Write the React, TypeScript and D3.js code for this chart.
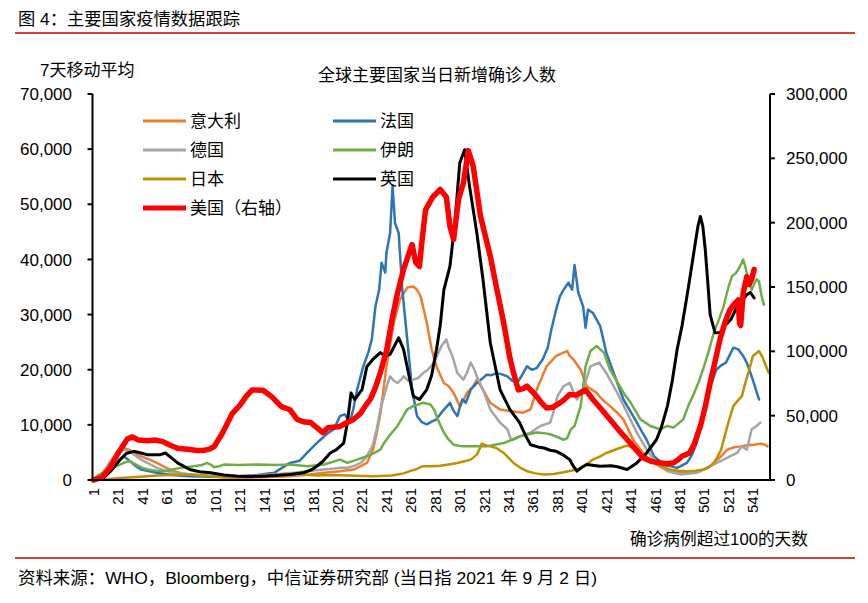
import React from "react";
import * as d3 from "d3";

type P = [number, number];

// day since 100 confirmed cases, 7-day average of new cases
const italy: P[] = [[1,0],[8,1000],[14,3000],[20,4800],[26,5800],[30,5500],[35,4800],[40,4300],[47,3700],[53,3100],[60,2300],[67,1600],[74,1200],[80,1000],[94,700],[110,450],[121,400],[140,500],[162,700],[178,1000],[190,1300],[203,1600],[214,1900],[220,2500],[225,3100],[230,5500],[233,8500],[236,12000],[241,20600],[247,28500],[252,32700],[258,34900],[263,35100],[266,34500],[269,33300],[274,28500],[278,23700],[282,20600],[288,17600],[292,17000],[296,15800],[301,13400],[304,14500],[307,15800],[312,17000],[315,18200],[320,16400],[326,14000],[334,12800],[342,12500],[353,12200],[359,12800],[364,16400],[368,18500],[372,20600],[380,22500],[386,23100],[389,23400],[391,22500],[394,21900],[400,20000],[405,17000],[413,15800],[418,14500],[424,13400],[430,12200],[435,11000],[443,7300],[451,4900],[459,3100],[470,1900],[484,1300],[498,1600],[505,2300],[509,3100],[515,4300],[520,5500],[525,5900],[531,6100],[536,6300],[542,6400],[547,6600],[551,6400],[553,6100]];

const france: P[] = [[1,0],[10,500],[18,2500],[24,4000],[26,4300],[31,3400],[36,2500],[40,1900],[53,1300],[65,900],[80,700],[100,600],[121,700],[135,900],[149,1300],[162,3100],[170,3500],[176,4900],[183,6500],[187,7300],[193,8500],[198,9200],[203,11600],[207,11900],[211,10400],[214,13000],[217,16400],[222,20600],[226,23000],[229,25500],[232,31500],[235,34500],[237,39400],[240,37600],[241,41200],[244,44800],[246,53300],[248,46600],[251,44800],[254,34500],[258,25500],[262,16400],[266,11600],[270,10500],[274,10100],[278,10600],[282,11000],[287,12500],[293,14000],[296,12500],[299,11600],[303,14600],[306,14000],[310,16400],[315,17600],[319,18300],[323,19100],[327,19000],[331,19400],[335,19200],[340,18800],[344,18000],[348,17600],[352,19000],[356,20600],[360,20000],[364,20300],[369,21900],[373,24000],[376,27300],[380,31000],[383,33300],[386,34500],[390,35800],[393,34500],[395,39000],[398,34000],[402,31500],[404,27600],[406,30900],[410,30300],[416,27900],[421,23100],[427,19400],[435,14600],[443,11600],[449,9200],[454,7300],[460,4300],[468,2800],[479,2200],[487,3100],[491,4500],[495,6700],[499,10500],[503,14600],[507,17500],[511,20000],[515,20800],[519,21300],[525,24000],[529,23700],[533,22500],[536,21300],[540,18800],[546,14600]];

const germany: P[] = [[1,0],[8,800],[14,3000],[20,4800],[26,5500],[31,5200],[35,4500],[40,3700],[47,2900],[53,2200],[60,1700],[67,1300],[80,1000],[108,700],[130,800],[149,1000],[165,1300],[176,1600],[190,1900],[203,2200],[209,2200],[215,2600],[220,3100],[224,4000],[228,5500],[230,6500],[233,9200],[236,12800],[239,15200],[242,17500],[244,18800],[247,18000],[250,17600],[253,18200],[255,18800],[259,18000],[263,18200],[267,18500],[271,19400],[275,20000],[280,21300],[283,22800],[286,24300],[290,25500],[292,24000],[295,22500],[299,19400],[304,18200],[307,19500],[310,21300],[313,20000],[315,18800],[320,16400],[326,12800],[334,10400],[340,9200],[343,7300],[347,7500],[350,7900],[355,8300],[359,8600],[367,9800],[375,10400],[378,12500],[381,15200],[386,17000],[391,17600],[394,16000],[397,14600],[402,16400],[408,20600],[415,21300],[421,19400],[430,15800],[438,12200],[446,8600],[454,5500],[462,3100],[471,1600],[482,1000],[495,1300],[506,2500],[517,3700],[528,4900],[532,6100],[536,5500],[540,9200],[544,9800],[547,10400]];

const iran: P[] = [[1,0],[5,900],[10,1500],[16,2100],[21,2600],[27,3200],[31,3400],[36,2800],[41,2200],[46,1900],[52,1700],[59,1600],[66,1900],[72,2200],[83,2500],[90,2700],[94,3100],[97,2800],[100,2300],[104,2500],[108,2800],[120,2700],[135,2800],[150,2700],[162,2800],[176,2500],[190,2800],[203,3700],[209,3100],[217,3700],[225,4300],[230,4800],[236,5500],[239,6700],[244,8200],[250,9800],[254,11300],[258,12800],[263,13400],[267,13700],[271,14000],[277,13700],[280,12800],[282,11600],[285,10000],[288,8600],[292,7300],[296,6400],[303,6100],[310,6100],[323,6100],[337,6700],[344,7300],[350,7900],[357,8300],[364,8600],[370,8500],[375,8300],[381,7800],[386,7300],[389,7600],[392,9200],[395,9800],[398,12000],[400,13400],[402,17000],[404,20600],[408,23400],[413,24300],[419,23100],[424,20000],[428,18500],[432,17000],[436,15500],[441,14000],[445,12500],[449,11000],[457,9800],[465,9200],[471,9800],[476,9500],[484,11000],[488,13400],[493,15800],[497,18000],[501,20600],[505,23500],[509,26700],[513,29000],[517,31500],[521,35000],[524,37000],[527,37500],[529,38200],[531,39000],[533,40000],[535,38500],[537,36500],[540,34500],[542,35500],[544,36400],[546,36000],[548,33500],[550,31800]];

const japan: P[] = [[1,0],[10,100],[20,300],[26,400],[40,600],[53,800],[65,900],[80,1000],[95,700],[110,500],[125,500],[140,700],[150,1000],[160,1100],[170,1000],[185,800],[195,900],[210,800],[230,700],[245,800],[250,1000],[255,1200],[260,1600],[266,2000],[271,2500],[278,2500],[285,2600],[292,2800],[299,3100],[305,3400],[310,3700],[315,4600],[317,5500],[319,6600],[322,6300],[326,6100],[331,5800],[337,4900],[341,4000],[345,3100],[350,2300],[356,1600],[363,1200],[370,1000],[378,1100],[386,1400],[397,1900],[404,2700],[410,3700],[416,4300],[421,4900],[427,5400],[432,5800],[437,6200],[440,6100],[444,5600],[449,4900],[454,4000],[460,3100],[466,2400],[473,1900],[480,1700],[487,1600],[494,1700],[501,1900],[506,2500],[509,3100],[512,4200],[515,5500],[518,8000],[521,10500],[525,13400],[529,14500],[532,15200],[535,17800],[538,20000],[541,22500],[546,23400],[549,22200],[552,20500],[554,19400]];

const uk: P[] = [[1,0],[10,500],[16,1800],[23,3700],[28,4800],[34,5200],[40,4900],[45,4600],[50,4600],[56,4600],[60,4900],[65,4000],[70,3100],[80,1900],[88,1500],[97,1300],[108,900],[119,700],[130,650],[140,700],[150,800],[162,1000],[173,1300],[180,1900],[184,2500],[189,3400],[195,4900],[200,5500],[206,6700],[209,10400],[212,15800],[215,14600],[218,15500],[221,16400],[225,20600],[230,21900],[236,23100],[240,22500],[244,22800],[248,24500],[251,25800],[255,23700],[259,19400],[263,15200],[268,14600],[274,16400],[278,19000],[282,23700],[285,28000],[288,34500],[293,38800],[297,46600],[301,57500],[305,59900],[309,53300],[315,44800],[320,36400],[326,24900],[334,16400],[342,12800],[350,10400],[355,8000],[359,6400],[365,6000],[370,5800],[375,5400],[380,5200],[386,4500],[391,3700],[394,2500],[397,1600],[401,2300],[405,2800],[416,2500],[425,2600],[430,2400],[438,1900],[446,3100],[454,4900],[462,7300],[466,9500],[471,13400],[475,18000],[479,23700],[483,28000],[487,33300],[490,37500],[493,41800],[496,46000],[498,47800],[500,46000],[502,41800],[504,36000],[506,30000],[510,26700],[514,26700],[518,28000],[523,29100],[528,31500],[532,32500],[536,33600],[539,34000],[542,33000]];

// right axis
const us: P[] = [[1,0],[8,2000],[15,10000],[22,22000],[29,32000],[33,33500],[38,31000],[45,30500],[52,31000],[58,29800],[64,27000],[70,24700],[80,23700],[86,23000],[91,22900],[96,24000],[100,26000],[107,36900],[115,52000],[121,58000],[126,64800],[131,70000],[140,69800],[147,64800],[155,57000],[162,54600],[168,47000],[174,45000],[179,44600],[185,40000],[189,36800],[193,40600],[203,41600],[208,44300],[214,47000],[220,52000],[224,58000],[228,63000],[232,72000],[236,83500],[241,100000],[246,127000],[250,145000],[255,163600],[259,175000],[262,183000],[265,169000],[268,166000],[270,185000],[273,210000],[279,220000],[285,225800],[290,220000],[293,197000],[296,187000],[300,218000],[304,231000],[308,256000],[312,244000],[318,205000],[326,174000],[331,150000],[337,122000],[342,95000],[345,83300],[349,70000],[353,71000],[356,73000],[360,69000],[364,65000],[368,60000],[372,56000],[377,56500],[381,58700],[386,62000],[391,66400],[396,66000],[400,68000],[404,70000],[410,62600],[417,55000],[424,47000],[431,39000],[438,31500],[445,24000],[451,17300],[458,14500],[465,13400],[470,12500],[476,13400],[480,16000],[483,18500],[489,21000],[493,28000],[498,41800],[502,57000],[506,75500],[510,92000],[514,109000],[518,122000],[522,132000],[526,137000],[529,140000],[530,122000],[531,120000],[533,145000],[536,158000],[538,152000],[540,156000],[542,163600]];

const leftTicks = [0, 10000, 20000, 30000, 40000, 50000, 60000, 70000];
const rightTicks = [0, 50000, 100000, 150000, 200000, 250000, 300000];
const dayTicks = [1,21,41,61,81,101,121,141,161,181,201,221,241,261,281,301,321,341,361,381,401,421,441,461,481,501,521,541];

const seriesNames = ["意大利", "法国", "德国", "伊朗", "日本", "英国", "美国（右轴）"];
const seriesColors = ["#ED7D31", "#2E75B6", "#A5A5A5", "#70AD47", "#BF9000", "#000000", "#FF0000"];
const seriesWidths = [2.5, 2.5, 2.5, 2.5, 2.5, 3, 5.5];
const seriesData = [italy, france, germany, iran, japan, uk, us];

const FONT = "'Liberation Sans', Arial, 'Noto Sans CJK SC', sans-serif";

export default function App() {
  const x = d3.scaleLinear().domain([1, 555]).range([93.3, 770]);
  const yL = d3.scaleLinear().domain([0, 70000]).range([480, 94]);
  const yR = d3.scaleLinear().domain([0, 300000]).range([480, 94]);
  const fmt = d3.format(",");

  const legendPos = [
    [143, 121], [333, 121],
    [143, 150], [333, 150],
    [143, 179], [333, 179],
    [143, 208],
  ];

  return (
    <svg width={868} height={603} style={{ position: "absolute", left: 0, top: 0, background: "#fff" }} fontFamily={FONT}>
      <rect width={868} height={603} fill="#fff" />
      <text x={18} y={25} fontSize={17} textLength={222} lengthAdjust="spacingAndGlyphs" fill="#000">图 4：主要国家疫情数据跟踪</text>
      <line x1={15} x2={855} y1={33} y2={33} stroke="#C00000" strokeWidth={1.5} />

      <text x={40} y={76} fontSize={17} fill="#000">7天移动平均</text>
      <text x={437} y={81} fontSize={17} textAnchor="middle" fill="#000">全球主要国家当日新增确诊人数</text>

      {/* series */}
      {seriesData.map((d, i) => {
        const y = i === 6 ? yR : yL;
        const line = d3.line<P>().x(p => x(p[0])).y(p => y(p[1]));
        return <path key={i} d={line(d) || ""} fill="none" stroke={seriesColors[i]} strokeWidth={seriesWidths[i]} strokeLinejoin="round" strokeLinecap="round" />;
      })}

      {/* axes */}
      <line x1={92.5} x2={92.5} y1={94} y2={481} stroke="#000" strokeWidth={2} />
      <line x1={770} x2={770} y1={94} y2={481} stroke="#000" strokeWidth={2} />
      <line x1={91.5} x2={771} y1={480} y2={480} stroke="#000" strokeWidth={2} />
      {leftTicks.map(t => (
        <g key={"l" + t}>
          <line x1={87.5} x2={92.5} y1={yL(t)} y2={yL(t)} stroke="#000" strokeWidth={2} />
          <text x={72} y={yL(t)} dy="0.36em" fontSize={17} textAnchor="end" fill="#000">{fmt(t)}</text>
        </g>
      ))}
      {rightTicks.map(t => (
        <g key={"r" + t}>
          <line x1={770} x2={775} y1={yR(t)} y2={yR(t)} stroke="#000" strokeWidth={2} />
          <text x={786} y={yR(t)} dy="0.36em" fontSize={17} textAnchor="start" fill="#000">{fmt(t)}</text>
        </g>
      ))}
      {dayTicks.map(t => (
        <text key={"d" + t} transform={`translate(${x(t)},488) rotate(-90)`} dy="0.36em" fontSize={15} textAnchor="end" fill="#000">{t}</text>
      ))}
      <text x={630} y={545} fontSize={17} textLength={178} lengthAdjust="spacingAndGlyphs" fill="#000">确诊病例超过100的天数</text>

      {/* legend */}
      {seriesNames.map((n, i) => {
        const [lx, ly] = legendPos[i];
        return (
          <g key={"lg" + i}>
            <line x1={lx} x2={lx + 43} y1={ly} y2={ly} stroke={seriesColors[i]} strokeWidth={i === 6 ? 5 : 3} />
            <text x={lx + 47} y={ly} dy="0.36em" fontSize={17} fill="#000">{n}</text>
          </g>
        );
      })}

      <line x1={15} x2={855} y1={558} y2={558} stroke="#C00000" strokeWidth={1.5} />
      <text x={18} y={584} fontSize={17} textLength={579} lengthAdjust="spacingAndGlyphs" fill="#000">资料来源：WHO，Bloomberg，中信证券研究部 (当日指 2021 年 9 月 2 日)</text>
    </svg>
  );
}
